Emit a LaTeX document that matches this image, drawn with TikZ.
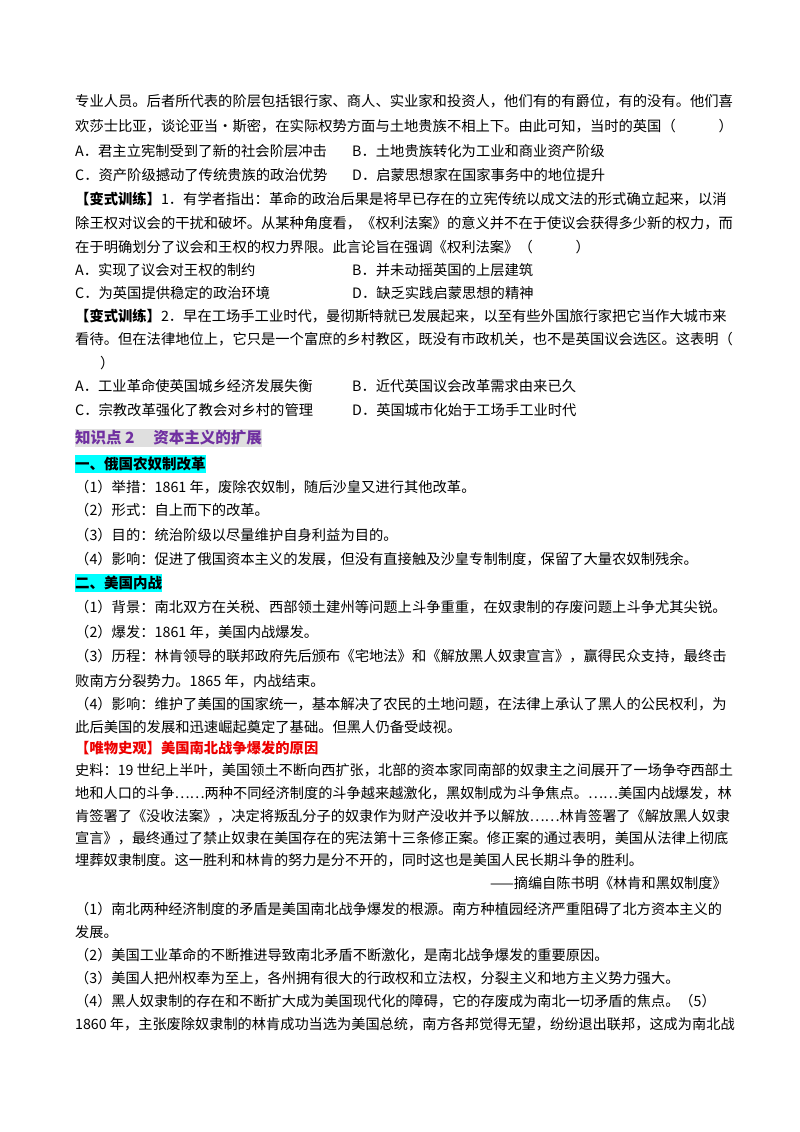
\documentclass[tikz,border=0pt]{standalone}
\usepackage{fontspec}
\setmainfont{Noto Sans CJK SC}
\usetikzlibrary{positioning}
\definecolor{mypurple}{rgb}{0.44, 0.19, 0.63}
\definecolor{mycyan}{rgb}{0.0, 1.0, 1.0}
\definecolor{myred}{rgb}{0.93, 0.0, 0.0}

\begin{document}
\begin{tikzpicture}[x=1pt,y=-1pt,
  txt/.style={anchor=west,inner sep=0pt,font=\fontsize{14.3}{16}\selectfont},
  src/.style={anchor=west,inner sep=0pt,font=\fontsize{14.2}{16}\selectfont},
  head/.style={anchor=west,inner xsep=0pt,inner ysep=2pt,font=\fontsize{14.5}{16}\selectfont\bfseries}]
% page
\useasboundingbox [fill=white] (0,0) rectangle (800,1132);
% first question
\node [txt] (q1a) at (75,101) {专业人员。后者所代表的阶层包括银行家、商人、实业家和投资人，他们有的有爵位，有的没有。他们喜};
\node [txt] (q1b) at (75,126) {欢莎士比亚，谈论亚当·斯密，在实际权势方面与土地贵族不相上下。由此可知，当时的英国（\hspace{3em}）};
\node [txt] (q1A) at (75,151) {A．君主立宪制受到了新的社会阶层冲击};
\node [txt] (q1B) at (352,151) {B．土地贵族转化为工业和商业资产阶级};
\node [txt] (q1C) at (75,175) {C．资产阶级撼动了传统贵族的政治优势};
\node [txt] (q1D) at (352,175) {D．启蒙思想家在国家事务中的地位提升};
% training 1
\node [txt] (v1a) at (75,199) {\textbf{【变式训练】}1．有学者指出：革命的政治后果是将早已存在的立宪传统以成文法的形式确立起来，以消};
\node [txt] (v1b) at (75,223) {除王权对议会的干扰和破坏。从某种角度看，《权利法案》的意义并不在于使议会获得多少新的权力，而};
\node [txt] (v1c) at (75,247) {在于明确划分了议会和王权的权力界限。此言论旨在强调《权利法案》（\hspace{3em}）};
\node [txt] (v1A) at (75,270) {A．实现了议会对王权的制约};
\node [txt] (v1B) at (352,270) {B．并未动摇英国的上层建筑};
\node [txt] (v1C) at (75,293) {C．为英国提供稳定的政治环境};
\node [txt] (v1D) at (352,293) {D．缺乏实践启蒙思想的精神};
% training 2
\node [txt] (v2a) at (75,316) {\textbf{【变式训练】}2．早在工场手工业时代，曼彻斯特就已发展起来，以至有些外国旅行家把它当作大城市来};
\node [txt] (v2b) at (75,339) {看待。但在法律地位上，它只是一个富庶的乡村教区，既没有市政机关，也不是英国议会选区。这表明（};
\node [txt] (v2c) at (100,363) {）};
\node [txt] (v2A) at (75,386) {A．工业革命使英国城乡经济发展失衡};
\node [txt] (v2B) at (352,386) {B．近代英国议会改革需求由来已久};
\node [txt] (v2C) at (75,410) {C．宗教改革强化了教会对乡村的管理};
\node [txt] (v2D) at (352,410) {D．英国城市化始于工场手工业时代};
% knowledge point 2
\node [head,fill=gray!25,text=mypurple,font=\fontsize{15.5}{17}\selectfont\bfseries] (kp) at (75,438) {知识点 2\hspace{1.2em}资本主义的扩展};
\node [head,fill=mycyan] (h1) at (75,464) {一、俄国农奴制改革};
\node [txt] (r1) at (75,487) {（1）举措：1861 年，废除农奴制，随后沙皇又进行其他改革。};
\node [txt] (r2) at (75,510) {（2）形式：自上而下的改革。};
\node [txt] (r3) at (75,535) {（3）目的：统治阶级以尽量维护自身利益为目的。};
\node [txt] (r4) at (75,559) {（4）影响：促进了俄国资本主义的发展，但没有直接触及沙皇专制制度，保留了大量农奴制残余。};
\node [head,fill=mycyan] (h2) at (75,583) {二、美国内战};
\node [txt] (a1) at (75,607) {（1）背景：南北双方在关税、西部领土建州等问题上斗争重重，在奴隶制的存废问题上斗争尤其尖锐。};
\node [txt] (a2) at (75,632) {（2）爆发：1861 年，美国内战爆发。};
\node [txt] (a3a) at (75,656) {（3）历程：林肯领导的联邦政府先后颁布《宅地法》和《解放黑人奴隶宣言》，赢得民众支持，最终击};
\node [txt] (a3b) at (75,681) {败南方分裂势力。1865 年，内战结束。};
\node [txt] (a4a) at (75,704) {（4）影响：维护了美国的国家统一，基本解决了农民的土地问题，在法律上承认了黑人的公民权利，为};
\node [txt] (a4b) at (75,727) {此后美国的发展和迅速崛起奠定了基础。但黑人仍备受歧视。};
% material
\node [txt,text=myred,font=\fontsize{14.3}{16}\selectfont\bfseries] (wh) at (75,748) {【唯物史观】美国南北战争爆发的原因};
\node [src] (s1) at (75,770) {史料：19 世纪上半叶，美国领土不断向西扩张，北部的资本家同南部的奴隶主之间展开了一场争夺西部土};
\node [src] (s2) at (75,793) {地和人口的斗争……两种不同经济制度的斗争越来越激化，黑奴制成为斗争焦点。……美国内战爆发，林};
\node [src] (s3) at (75,816) {肯签署了《没收法案》，决定将叛乱分子的奴隶作为财产没收并予以解放……林肯签署了《解放黑人奴隶};
\node [src] (s4) at (75,838) {宣言》，最终通过了禁止奴隶在美国存在的宪法第十三条修正案。修正案的通过表明，美国从法律上彻底};
\node [src] (s5) at (75,860) {埋葬奴隶制度。这一胜利和林肯的努力是分不开的，同时这也是美国人民长期斗争的胜利。};
\node [src,anchor=east] (s6) at (727,883) {——摘编自陈书明《林肯和黑奴制度》};
\node [src] (c1a) at (75,909) {（1）南北两种经济制度的矛盾是美国南北战争爆发的根源。南方种植园经济严重阻碍了北方资本主义的};
\node [src] (c1b) at (75,932) {发展。};
\node [src] (c2) at (75,955) {（2）美国工业革命的不断推进导致南北矛盾不断激化，是南北战争爆发的重要原因。};
\node [src] (c3) at (75,978) {（3）美国人把州权奉为至上，各州拥有很大的行政权和立法权，分裂主义和地方主义势力强大。};
\node [src] (c4) at (75,1001) {（4）黑人奴隶制的存在和不断扩大成为美国现代化的障碍，它的存废成为南北一切矛盾的焦点。（5）};
\node [src] (c5) at (75,1024) {1860 年，主张废除奴隶制的林肯成功当选为美国总统，南方各邦觉得无望，纷纷退出联邦，这成为南北战};
\end{tikzpicture}
\end{document}
